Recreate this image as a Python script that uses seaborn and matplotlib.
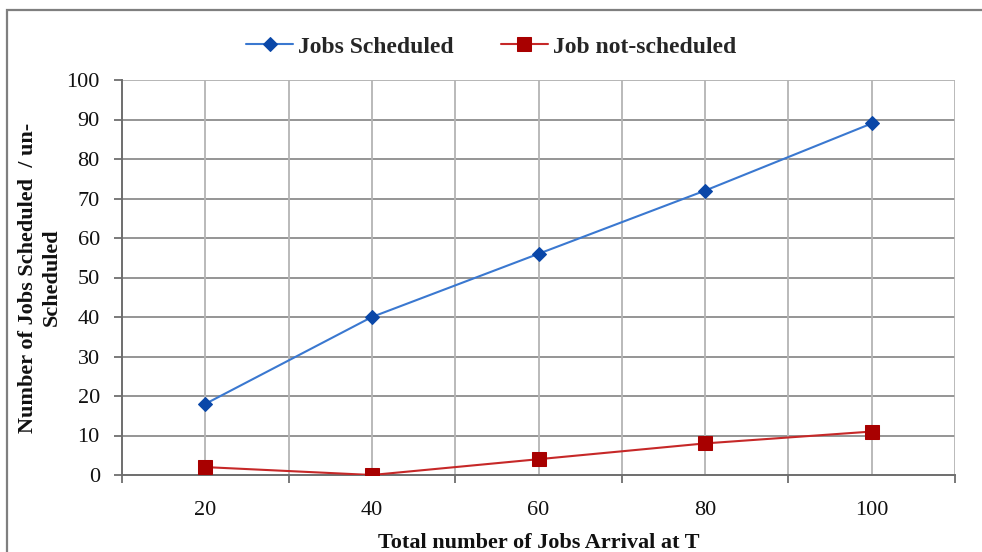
import matplotlib
matplotlib.use("Agg")
import matplotlib.pyplot as plt
from matplotlib.patches import Rectangle
from matplotlib.ticker import FixedLocator
import seaborn as sns
import pandas as pd

# Chart data
arrivals = ["20", "40", "60", "80", "100"]
jobs_scheduled = [18, 40, 56, 72, 89]
jobs_not_scheduled = [2, 0, 4, 8, 11]
series_names = ["Jobs Scheduled", "Job not-scheduled"]
y_ticks = [0, 10, 20, 30, 40, 50, 60, 70, 80, 90, 100]

sns.set_theme(style="white")
plt.rcParams["font.family"] = ["Liberation Serif", "DejaVu Serif"]

df = pd.DataFrame({
    "arrivals": arrivals * 2,
    "count": jobs_scheduled + jobs_not_scheduled,
    "series": [series_names[0]] * 5 + [series_names[1]] * 5,
})

fig = plt.figure(figsize=(9.82, 5.52), dpi=100)
ax = fig.add_axes([122 / 982, 1 - 475 / 552, (955 - 122) / 982, (475 - 80) / 552])

# Outer chart frame
fig.patches.append(Rectangle((7 / 982, -0.1), 1.2, 1 - 10 / 552 + 0.1,
                             transform=fig.transFigure, fill=False,
                             edgecolor="#7f7f7f", linewidth=1.6, zorder=0))

line_colors = {series_names[0]: "#3a78d0", series_names[1]: "#c62828"}
marker_colors = {series_names[0]: "#0a47a8", series_names[1]: "#a80000"}
markers = {series_names[0]: "D", series_names[1]: "s"}
sizes = {series_names[0]: 7, series_names[1]: 10}

for name in series_names:
    sub = df[df["series"] == name]
    sns.lineplot(data=sub, x="arrivals", y="count", ax=ax, sort=False,
                 color=line_colors[name], linewidth=1.5, marker=markers[name],
                 markersize=sizes[name], markerfacecolor=marker_colors[name],
                 markeredgecolor=marker_colors[name], label=name, zorder=3)

ax.set_xlim(-0.5, 4.5)
ax.set_ylim(0, 100)
ax.set_yticks(y_ticks)
ax.set_xticks(range(len(arrivals)))
ax.set_xticklabels(arrivals)
ax.xaxis.set_minor_locator(FixedLocator([i - 0.5 for i in range(len(arrivals) + 1)]))

# Gridlines: horizontal darker, vertical lighter at centers and boundaries
ax.grid(False)
for y in y_ticks[1:]:
    ax.axhline(y, color="#8c8c8c" if y < 100 else "#b0b0b0", linewidth=1.3, zorder=1)
for x in [i * 0.5 - 0.5 for i in range(11)][1:]:
    ax.axvline(x, color="#b4b4b4", linewidth=1.3, zorder=1)

for side in ["top", "right"]:
    ax.spines[side].set_visible(False)
for side in ["left", "bottom"]:
    ax.spines[side].set_color("#6e6e6e")
    ax.spines[side].set_linewidth(1.4)

ax.tick_params(axis="y", which="major", direction="out", length=6, width=1.3,
               color="#6e6e6e", left=True, labelsize=16, pad=10, labelcolor="#111111")
ax.tick_params(axis="x", which="major", length=0, labelsize=16, pad=19,
               labelcolor="#111111")
ax.tick_params(axis="x", which="minor", direction="out", length=6, width=1.3,
               color="#6e6e6e", bottom=True)

ax.set_xlabel("Total number of Jobs Arrival at T", fontsize=16, fontweight="bold",
              labelpad=9, color="#111111")
ax.set_ylabel("Number of Jobs Scheduled  / un-\nScheduled", fontsize=16,
              fontweight="bold", labelpad=3, color="#111111", linespacing=1.25)

ax.get_legend().remove()
handles, labels = ax.get_legend_handles_labels()
fig.legend(handles, labels, loc="center", bbox_to_anchor=(0.5, 1 - 47 / 552),
           ncol=2, frameon=False, handlelength=2.0, columnspacing=2.0,
           handletextpad=0.2, prop={"weight": "bold", "size": 17})

fig.savefig("out.png", dpi=100)
